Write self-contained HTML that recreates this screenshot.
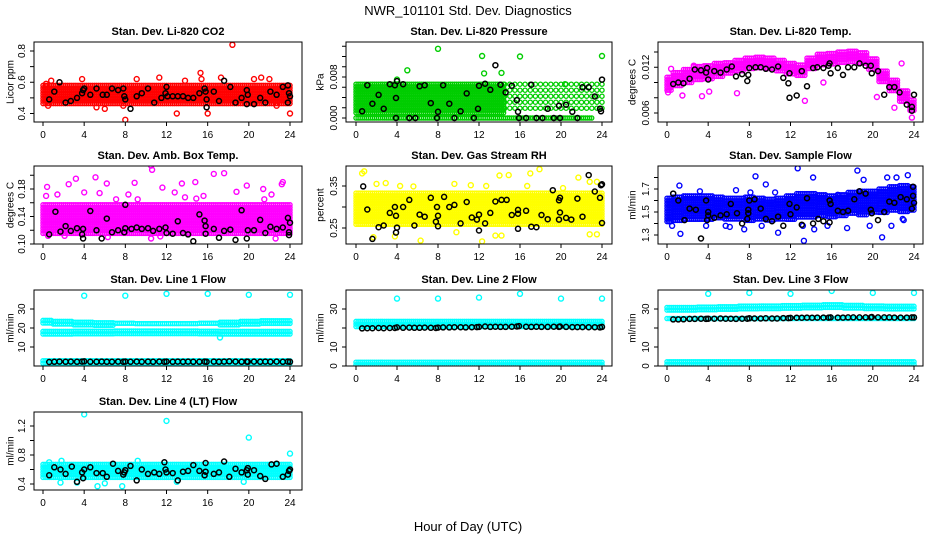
<!DOCTYPE html>
<html><head><meta charset="utf-8">
<style>
html,body{margin:0;padding:0;background:#fff;}
svg{display:block;font-family:"Liberation Sans",Helvetica,sans-serif;}
</style></head>
<body>
<svg id="chart" width="936" height="540" viewBox="0 0 936 540" xmlns="http://www.w3.org/2000/svg">
<text x="468" y="15" text-anchor="middle" font-size="13">NWR_101101  Std. Dev. Diagnostics</text>
<text x="468" y="531" text-anchor="middle" font-size="13">Hour of Day (UTC)</text>
<g id="panels"></g>
</svg>
<script>
// ---- shared data ----
const xTicks = [0,4,8,12,16,20,24];
const blackHours = [0.6,1.1,1.6,2.2,2.7,3.3,3.8,4.0,4.6,5.2,5.7,6.2,6.7,7.3,7.8,8.0,8.5,9.1,9.6,10.2,10.7,11.3,11.8,12.0,12.6,13.1,13.6,14.1,14.6,15.2,15.7,15.9,16.6,17.1,17.6,18.1,18.7,19.3,19.8,19.9,20.5,21.1,21.6,22.1,22.7,23.3,23.8,24.0];

// CO2
const co2Lo = [0.46,0.46];
const co2Hi = [0.58,0.58];
const co2Out = [[0.3,0.59],[0.5,0.45],[0.8,0.61],[3.8,0.62],[5.2,0.44],[6,0.43],[7.8,0.45],[8,0.36],[9.1,0.62],[11.3,0.63],[13,0.40],[13.8,0.61],[15.3,0.66],[15.4,0.62],[16,0.40],[17.3,0.63],[18.4,0.84],[20.5,0.62],[21.2,0.63],[22,0.62],[22.7,0.45],[24,0.40]];
const co2Black = [[0.6,0.49],[1.1,0.54],[1.6,0.60],[2.2,0.47],[2.7,0.48],[3.3,0.50],[3.8,0.53],[3.9,0.55],[4.0,0.56],[4.6,0.52],[5.2,0.56],[5.8,0.52],[6.2,0.52],[6.7,0.56],[7.3,0.55],[7.8,0.56],[7.9,0.51],[8.0,0.49],[8.5,0.43],[9.1,0.51],[9.6,0.53],[10.2,0.56],[10.8,0.47],[11.5,0.50],[11.9,0.53],[12,0.57],[12.1,0.51],[12.6,0.51],[13.1,0.51],[13.6,0.51],[14.1,0.50],[14.6,0.50],[15.2,0.53],[15.7,0.56],[15.8,0.54],[15.9,0.49],[15.9,0.44],[16.6,0.54],[17.1,0.48],[17.6,0.61],[18.2,0.57],[18.7,0.47],[19.3,0.50],[19.8,0.55],[19.9,0.52],[19.8,0.46],[20.5,0.46],[21.1,0.50],[21.6,0.47],[22.1,0.54],[22.7,0.52],[23.3,0.57],[23.8,0.58],[23.9,0.53],[24,0.51],[23.8,0.47]];

// Pressure
const presLo = [0.0008,0.0008];
const presHi = [0.0066,0.0066];
const presZeroLo = [0,0];
const presZeroHi = [0,0];
const presOut = [[8,0.0135],[12.3,0.0121],[16,0.012],[24,0.0121],[5,0.0093],[12.5,0.0087],[14.2,0.0088],[4,0.0075],[20.4,0.0066]];
const presBlack = [[0.6,0.0013],[1.1,0.0064],[1.6,0.0028],[2.2,0.0045],[2.7,0.0018],[3.3,0.0066],[3.8,0.0064],[3.9,0.0039],[3.9,0],[4,0.0072],[4.6,0.0066],[5.2,0],[5.8,0],[6.2,0.0062],[6.7,0.0064],[7.3,0.0029],[7.9,0],[8,0.0012],[8.5,0.0064],[9.1,0.0028],[9.6,0],[10.2,0.0013],[10.8,0.0048],[11.5,0],[11.9,0.0018],[12,0.0063],[12.6,0.0067],[13.1,0.0055],[13.6,0.0103],[14.1,0.0065],[14.6,0.0050],[15.2,0.0063],[15.7,0.0035],[15.8,0.0012],[15.9,0],[16.6,0],[17.1,0.0065],[17.6,0],[18.2,0],[18.7,0.0018],[19.3,0],[19.8,0.0024],[19.9,0],[20.5,0.0026],[21.1,0.0012],[21.6,0],[22.1,0.0060],[22.7,0.0060],[23.3,0.0042],[23.8,0.0018],[23.9,0.0013],[24,0.0075]];

// Li-820 Temp
const tempLo = [0.0089,0.0095,0.0099,0.0103,0.0104,0.0107,0.0110,0.0113,0.0116,0.0117,0.0116,0.0113,0.0109,0.0107,0.0116,0.0121,0.0124,0.0126,0.0127,0.0125,0.0117,0.0101,0.0089,0.0075,0.0063];
const tempHi = [0.0107,0.0113,0.0117,0.0121,0.0122,0.0125,0.0126,0.0129,0.0132,0.0133,0.0132,0.0129,0.0125,0.0123,0.0132,0.0137,0.0138,0.0140,0.0141,0.0139,0.0131,0.0115,0.0103,0.0089,0.0077];
const tempOut = [[0.1,0.0087],[0.4,0.0118],[1.5,0.0083],[2.6,0.0122],[3.4,0.0082],[4.1,0.0088],[6.8,0.0086],[13.4,0.0076],[15.2,0.0100],[20.4,0.0081],[22.1,0.0067],[22.8,0.0125],[23.8,0.0054]];
const tempBlack = [[0.6,0.0098],[1.1,0.0100],[1.6,0.0099],[2.2,0.0105],[2.7,0.0117],[3.3,0.0116],[3.8,0.0113],[3.9,0.0119],[4,0.0104],[4.6,0.0115],[5.2,0.0113],[5.8,0.0117],[6.3,0.0121],[6.7,0.0108],[7.3,0.0111],[7.8,0.0102],[7.9,0.0110],[8.0,0.0119],[8.6,0.0120],[9.1,0.0120],[9.6,0.0118],[10.2,0.0117],[10.8,0.0121],[11.3,0.0106],[11.8,0.0099],[11.9,0.0112],[11.9,0.0080],[12.6,0.0083],[13.1,0.0115],[13.6,0.0095],[14.2,0.0119],[14.6,0.0120],[15.2,0.0119],[15.7,0.0122],[15.8,0.0125],[15.9,0.0112],[16.6,0.0119],[17.1,0.0110],[17.6,0.0120],[18.2,0.0120],[18.7,0.0125],[19.3,0.0122],[19.8,0.0122],[19.9,0.0112],[20.5,0.0115],[21.1,0.0084],[21.6,0.0094],[22.1,0.0094],[22.6,0.0087],[23.3,0.0071],[23.8,0.0063],[23.8,0.0068],[24,0.0084]];

// Amb box temp
const ambLo = [0.115,0.115];
const ambHi = [0.157,0.157];
const ambOut = [[0.3,0.170],[0.4,0.183],[1.4,0.172],[2.5,0.187],[3.2,0.195],[4,0.175],[5.1,0.197],[5.5,0.174],[6.2,0.188],[7.1,0.165],[8.3,0.172],[8.9,0.189],[9.2,0.165],[10.5,0.214],[10.6,0.208],[10.5,0.108],[11.6,0.182],[11.4,0.111],[12.8,0.175],[13.5,0.188],[14.8,0.190],[16.6,0.202],[17.6,0.203],[18.8,0.176],[19.8,0.185],[21.4,0.180],[22.2,0.172],[23.2,0.187],[23.3,0.190],[0.5,0.112],[2.1,0.112],[6.3,0.110],[22.6,0.108],[14.9,0.166],[21.5,0.165],[13.8,0.168],[15.6,0.170]];
const ambBlack = [[0.6,0.114],[1.2,0.147],[1.7,0.118],[2.2,0.126],[2.7,0.119],[3.3,0.123],[3.8,0.114],[3.9,0.122],[3.9,0.108],[4.6,0.148],[5.2,0.120],[5.7,0.108],[6.2,0.137],[6.7,0.117],[7.3,0.120],[7.9,0.117],[8,0.123],[8,0.157],[8.6,0.122],[9.1,0.124],[9.6,0.122],[10.2,0.123],[10.7,0.119],[11.3,0.122],[11.9,0.124],[12,0.116],[12.6,0.115],[13.1,0.133],[13.6,0.116],[14.1,0.114],[14.6,0.104],[15.2,0.143],[15.7,0.134],[15.8,0.126],[15.8,0.115],[16.6,0.122],[17.1,0.109],[17.6,0.119],[18.2,0.121],[18.7,0.106],[19.3,0.149],[19.8,0.108],[19.9,0.120],[20.5,0.120],[21.1,0.135],[21.6,0.116],[22.1,0.125],[22.7,0.122],[23.3,0.124],[23.8,0.138],[23.9,0.117],[24,0.131],[23.9,0.113]];

// Gas stream RH
const rhLo = [0.258,0.258];
const rhHi = [0.333,0.333];
const rhOut = [[0.6,0.380],[0.8,0.385],[2,0.355],[2.9,0.357],[4.3,0.350],[5.6,0.349],[6.3,0.220],[9.6,0.355],[11.2,0.352],[12.3,0.218],[12.7,0.350],[14,0.375],[14.9,0.376],[17,0.380],[17.9,0.390],[16.7,0.350],[21.7,0.370],[22.8,0.360],[23.5,0.360],[22.8,0.235],[23.5,0.235],[13.6,0.232],[14.2,0.232],[3.8,0.230],[1.7,0.228],[9.8,0.240],[20.2,0.345]];
const rhBlack = [[0.7,0.349],[1.1,0.294],[1.6,0.224],[2.2,0.252],[2.7,0.256],[3.3,0.286],[3.8,0.300],[3.9,0.279],[3.9,0.239],[4.0,0.251],[4.6,0.300],[5.2,0.317],[5.7,0.256],[6.2,0.282],[6.7,0.277],[7.3,0.322],[7.8,0.265],[7.9,0.300],[8,0.279],[8,0.254],[8.6,0.324],[9.1,0.300],[9.6,0.305],[10.2,0.261],[10.8,0.312],[11.3,0.275],[11.8,0.270],[12,0.282],[12,0.244],[12.6,0.261],[13.1,0.286],[13.6,0.313],[14.2,0.317],[14.7,0.317],[15.2,0.281],[15.8,0.293],[15.8,0.284],[15.8,0.248],[16.6,0.291],[17.1,0.253],[17.6,0.252],[18.1,0.281],[18.7,0.271],[19.2,0.340],[19.8,0.316],[19.9,0.322],[19.8,0.270],[19.9,0.287],[20.5,0.274],[21,0.270],[21.6,0.320],[22.1,0.277],[22.7,0.376],[23.3,0.337],[23.8,0.322],[23.9,0.352],[24,0.262],[24,0.354]];

// Sample flow
const sfLo = [1.41,1.41,1.42,1.43,1.42,1.43,1.43,1.42,1.42,1.43,1.42,1.42,1.43,1.44,1.44,1.45,1.45,1.46,1.47,1.47,1.48,1.49,1.50,1.50,1.50];
const sfHi = [1.62,1.63,1.64,1.64,1.64,1.63,1.62,1.62,1.63,1.62,1.61,1.62,1.64,1.66,1.66,1.65,1.64,1.65,1.67,1.68,1.68,1.70,1.72,1.73,1.72];
const sfOut = [[0.2,1.42],[0.5,1.38],[1.2,1.73],[1.3,1.31],[3.2,1.68],[3.8,1.38],[5.7,1.38],[6.1,1.37],[6.7,1.69],[7.5,1.35],[8.1,1.67],[8.6,1.81],[9.2,1.38],[9.6,1.74],[10.5,1.67],[10.8,1.32],[12.7,1.88],[13.3,1.25],[13.2,1.38],[14.2,1.80],[14.3,1.35],[15.6,1.38],[16.6,1.65],[17.5,1.36],[18.5,1.86],[19.1,1.78],[19.7,1.38],[20.9,1.28],[21.8,1.38],[21.4,1.80],[22.3,1.80],[23.4,1.82],[22.9,1.44],[23,1.43]];
const sfBlack = [[0.6,1.66],[1.1,1.60],[1.7,1.43],[2.2,1.53],[2.8,1.52],[3.3,1.27],[3.8,1.60],[3.9,1.43],[4,1.50],[4,1.47],[4.6,1.45],[5.2,1.47],[5.8,1.48],[6.2,1.57],[6.8,1.49],[7.3,1.40],[7.8,1.44],[7.9,1.52],[7.9,1.49],[8,1.60],[8.5,1.61],[9.1,1.53],[9.6,1.44],[10.2,1.42],[10.8,1.46],[11.3,1.38],[11.9,1.57],[12,1.48],[12.6,1.54],[13.1,1.39],[13.6,1.62],[14.2,1.40],[14.7,1.44],[15.2,1.42],[15.8,1.41],[15.8,1.60],[15.9,1.57],[16.6,1.51],[17.1,1.50],[17.6,1.51],[18.2,1.61],[18.7,1.68],[19.3,1.66],[19.8,1.52],[19.9,1.49],[20.5,1.43],[21.1,1.50],[21.6,1.59],[22.1,1.58],[22.7,1.63],[23.3,1.61],[23.8,1.53],[23.9,1.64],[24,1.58],[23.9,1.72]];

// Line 1 flow
const l1UpLo = [21.5,21.5,21.3,21.2,21.2,21.2,21.2,21.2,21.2,21.3,21.5,21.5,21.5];
const l1UpHi = [24.0,23.5,23.0,22.8,22.5,22.3,22.3,22.3,22.5,23.0,23.5,23.8,23.8];
const l1MidLo = [16.0,16.5,16.5,16.8,17.0,17.0,17.0,17.0,16.8,16.5,16.5,16.5,16.5];
const l1MidHi = [18.2,18.2,18.3,18.3,18.4,18.4,18.4,18.4,18.3,18.2,18.2,18.2,18.2];
const l1BotLo = [1.3,1.3];
const l1BotHi = [2.8,2.8];
const l1Out = [[4,37],[8,37],[12,38],[16,38],[20,37.5],[24,37.5],[17.2,15]];
const l1BlackVals = [2.1,2.2,2.3,2.2,2.3,2.2,2.3,2.4,2.2,2.2,2.3,2.2,2.2,2.3,2.2,2.3,2.2,2.3,2.2,2.3,2.2,2.3,2.2,2.3,2.2,2.3,2.2,2.3,2.2,2.2,2.3,2.2,2.3,2.2,2.3,2.4,2.3,2.2,2.3,2.2,2.3,2.2,2.3,2.2,2.3,2.2,2.3,2.2];

// Line 2 flow
const l2UpLo = [20.0,20.0];
const l2UpHi = [23.5,23.5];
const l2BotLo = [0.4,0.4];
const l2BotHi = [2.0,2.0];
const l2Out = [[4,35.5],[8,35.5],[12,36],[16,38],[20,35.5],[24,35.5]];
const l2BlackVals = [19.8,19.9,19.9,20.0,19.9,20.0,20.0,20.3,20.1,20.2,20.1,20.1,20.2,20.1,20.0,20.2,20.3,20.3,20.4,20.4,20.3,20.4,20.5,20.6,20.8,20.6,20.7,20.6,20.6,20.7,20.8,21.0,20.7,20.6,20.7,20.6,20.6,20.7,20.6,20.8,20.6,20.5,20.5,20.5,20.4,20.4,20.3,20.6];

// Line 3 flow
const l3UpLo = [29.0,29.0,29.2,29.5,29.7,29.8,30.0,30.2,30.4,30.2,30.0,29.8,29.8];
const l3UpHi = [30.8,30.8,31.0,31.2,31.5,31.6,31.8,32.0,32.2,31.9,31.6,31.4,31.4];
const l3MidLo = [24.0,24.0];
const l3MidHi = [25.0,25.0];
const l3BotLo = [0.8,0.8];
const l3BotHi = [2.2,2.2];
const l3Out = [[4,38],[8,38.5],[12,38],[16,39.5],[20,38.5],[24,38.5]];
const l3BlackVals = [24.5,24.5,24.6,24.8,24.8,24.9,24.8,24.9,24.9,25.0,24.9,24.9,24.8,24.9,24.9,25.1,25.0,25.0,25.1,25.0,25.0,25.2,25.2,25.3,25.4,25.4,25.5,25.4,25.5,25.5,25.5,25.6,25.5,25.5,25.6,25.6,25.6,25.6,25.6,25.8,25.6,25.6,25.6,25.5,25.5,25.5,25.6,25.6];

// Line 4 flow
const l4Lo = [0.47,0.47];
const l4Hi = [0.67,0.67];
const l4Out = [[4,1.36],[12,1.27],[20,1.04],[24,0.82],[5.3,0.37],[7.7,0.37],[6,0.41],[1.8,0.72],[9.2,0.72],[3.3,0.42],[0.6,0.70],[1.7,0.42],[13,0.43],[19.5,0.43]];
const l4Black = [[0.6,0.52],[1.1,0.63],[1.7,0.60],[2.2,0.54],[2.8,0.64],[3.3,0.43],[3.8,0.56],[3.9,0.48],[4,0.60],[4.6,0.63],[5.2,0.55],[5.8,0.55],[6.2,0.50],[6.8,0.68],[7.3,0.58],[7.8,0.53],[7.9,0.56],[8,0.59],[8.5,0.65],[9.1,0.45],[9.6,0.60],[10.2,0.54],[10.8,0.56],[11.3,0.54],[11.8,0.70],[11.9,0.60],[12,0.56],[12.6,0.55],[13.1,0.45],[13.6,0.57],[14.1,0.58],[14.6,0.66],[15.2,0.58],[15.7,0.52],[15.8,0.69],[15.8,0.57],[16.6,0.54],[17.1,0.56],[17.6,0.71],[18.1,0.50],[18.7,0.61],[19.3,0.56],[19.8,0.59],[19.9,0.62],[19.9,0.53],[20.5,0.59],[21.1,0.51],[21.6,0.47],[22.2,0.67],[22.7,0.68],[23.3,0.50],[23.8,0.53],[23.9,0.58],[24,0.60]];

// tick arrays
const co2Ticks=[0.4,0.5,0.6,0.7,0.8], co2Labels=["0.4","","0.6","","0.8"];
const presTicks=[0,0.002,0.004,0.006,0.008,0.010,0.012,0.014], presLabels=["0.000","","","","0.008","","",""];
const tempTicks=[0.006,0.008,0.010,0.012,0.014], tempLabels=["0.006","","","0.012",""];
const ambTicks=[0.10,0.12,0.14,0.16,0.18,0.20], ambLabels=["0.10","","0.14","","0.18",""];
const rhTicks=[0.25,0.30,0.35], rhLabels=["0.25","","0.35"];
const sfTicks=[1.3,1.4,1.5,1.6,1.7,1.8], sfLabels=["1.3","","1.5","","1.7",""];
const l1Ticks=[10,20,30], l1Labels=["10","20","30"];
const l23Ticks=[0,10,20,30], l23Labels=["0","10","","30"];
const l4Ticks=[0.4,0.6,0.8,1.0,1.2], l4Labels=["0.4","","0.8","","1.2"];

// ---- layout (geometry, not data) ----
const cols=[{x0:43,x24:290,L:34,R:302,yl:10},{x0:356,x24:602,L:346,R:612,yl:320},{x0:667,x24:914,L:658,R:923,yl:632}];
const rows=[{T:42,B:122},{T:166,B:244},{T:290,B:366},{T:412,B:490}];

const pairs=(h,v)=>h.map((x,i)=>[x,v[i]]);
const panels=[
 {id:"co2",title:"Stan. Dev. Li-820 CO2",ylab:"Licor ppm",c:0,r:0,col:"#FF0000",ym:[0.4,113.5,0.8,51],ticks:co2Ticks,labels:co2Labels,bands:[[co2Lo,co2Hi,0,24]],out:co2Out,black:co2Black},
 {id:"pressure",title:"Stan. Dev. Li-820 Pressure",ylab:"kPa",c:1,r:0,col:"#00CD00",ym:[0,118,0.008,77],ticks:presTicks,labels:presLabels,bands:[[presLo,presHi,0,14.5],[presLo,presHi,14.5,24,"sparse"],[presZeroLo,presZeroHi,0,23]],out:presOut,black:presBlack},
 {id:"temp",title:"Stan. Dev. Li-820 Temp.",ylab:"degrees C",c:2,r:0,col:"#FF00FF",ym:[0.006,113,0.014,52],ticks:tempTicks,labels:tempLabels,bands:[[tempLo,tempHi,0,24]],out:tempOut,black:tempBlack},
 {id:"amb",title:"Stan. Dev. Amb. Box Temp.",ylab:"degrees C",c:0,r:1,col:"#FF00FF",ym:[0.10,244,0.18,189],ticks:ambTicks,labels:ambLabels,bands:[[ambLo,ambHi,0,24]],out:ambOut,black:ambBlack},
 {id:"rh",title:"Stan. Dev. Gas Stream RH",ylab:"percent",c:1,r:1,col:"#FFFF00",ym:[0.25,228,0.35,186],ticks:rhTicks,labels:rhLabels,bands:[[rhLo,rhHi,0,24]],out:rhOut,black:rhBlack},
 {id:"sampleflow",title:"Stan. Dev. Sample Flow",ylab:"ml/min",c:2,r:1,col:"#0000FF",ym:[1.3,235,1.7,189],ticks:sfTicks,labels:sfLabels,bands:[[sfLo,sfHi,0,24]],out:sfOut,black:sfBlack},
 {id:"line1",title:"Stan. Dev. Line 1 Flow",ylab:"ml/min",c:0,r:2,col:"#00FFFF",ym:[0,366,30,309],ticks:l1Ticks,labels:l1Labels,bands:[[l1UpLo,l1UpHi,0,24],[l1MidLo,l1MidHi,0,24],[l1BotLo,l1BotHi,0,24]],out:l1Out,black:pairs(blackHours,l1BlackVals)},
 {id:"line2",title:"Stan. Dev. Line 2 Flow",ylab:"ml/min",c:1,r:2,col:"#00FFFF",ym:[0,366,30,309],ticks:l23Ticks,labels:l23Labels,bands:[[l2UpLo,l2UpHi,0,24],[l2BotLo,l2BotHi,0,24]],out:l2Out,black:pairs(blackHours,l2BlackVals)},
 {id:"line3",title:"Stan. Dev. Line 3 Flow",ylab:"ml/min",c:2,r:2,col:"#00FFFF",ym:[0,366,30,309],ticks:l23Ticks,labels:l23Labels,bands:[[l3UpLo,l3UpHi,0,24],[l3MidLo,l3MidHi,0,24],[l3BotLo,l3BotHi,0,24]],out:l3Out,black:pairs(blackHours,l3BlackVals)},
 {id:"line4",title:"Stan. Dev. Line 4 (LT) Flow",ylab:"ml/min",c:0,r:3,col:"#00FFFF",ym:[0.4,484,0.8,455],ticks:l4Ticks,labels:l4Labels,bands:[[l4Lo,l4Hi,0,24]],out:l4Out,black:l4Black}
];

const NS="http://www.w3.org/2000/svg";
const root=document.getElementById("panels");
function mk(tag,attrs,parent){const e=document.createElementNS(NS,tag);for(const k in attrs)e.setAttribute(k,attrs[k]);parent.appendChild(e);return e;}

panels.forEach(p=>{
  const C=cols[p.c],Rw=rows[p.r];
  const xs=h=>C.x0+(C.x24-C.x0)*h/24;
  const ys=v=>p.ym[1]+(v-p.ym[0])*(p.ym[3]-p.ym[1])/(p.ym[2]-p.ym[0]);
  const g=mk("g",{},root);
  
  
  const t=mk("text",{x:(C.L+C.R)/2,y:Rw.T-7,"text-anchor":"middle","font-size":"11","font-weight":"bold"},g);
  t.textContent=p.title;
  
  
  const cy=(Rw.T+Rw.B)/2;
  const yl=mk("text",{x:C.yl,y:cy,"text-anchor":"middle","font-size":"10",transform:`rotate(-90 ${C.yl} ${cy})`,dy:"0.35em"},g);
  yl.textContent=p.ylab;
  
  
  const cid="clip-"+p.id;
  const cp=mk("clipPath",{id:cid},g);
  mk("rect",{x:C.L,y:Rw.T,width:C.R-C.L,height:Rw.B-Rw.T},cp);
  const pts=mk("g",{"clip-path":`url(#${cid})`,fill:"none"},g);
  
  
  p.bands.forEach(b=>{
    const [lo,hi,from,to,mode]=b; const n=lo.length;
    const step=mode==="sparse"?0.5:0.2;
    for(let h=from;h<=to+1e-9;h+=step){
      const idx=Math.round(h/24*(n-1));
      const yTop=ys(hi[idx]),yBot=ys(lo[idx]);
      const dy=mode==="sparse"?6:2.6;
      for(let y=yTop;y<=yBot+0.01;y+=dy){
        const c=mk("circle",{cx:xs(h).toFixed(1),cy:y.toFixed(1),r:2.1,stroke:p.col,"stroke-width":1.3},pts);
        
        
      }
    }
  });
  p.out.forEach(o=>{
    const c=mk("circle",{cx:xs(o[0]).toFixed(1),cy:ys(o[1]).toFixed(1),r:2.5,stroke:p.col,"stroke-width":1.4},pts);
    
    
  });
  p.black.forEach(o=>{
    const c=mk("circle",{cx:xs(o[0]).toFixed(1),cy:ys(o[1]).toFixed(1),r:2.5,stroke:"#000","stroke-width":1.5},pts);
    
    
  });
  const bx=mk("rect",{x:C.L,y:Rw.T,width:C.R-C.L,height:Rw.B-Rw.T,fill:"none",stroke:"#000","stroke-width":1},g);
  
  
  xTicks.forEach(v=>{
    const x=xs(v);
    mk("line",{x1:x,x2:x,y1:Rw.B,y2:Rw.B+4,stroke:"#000"},g);
    const tl=mk("text",{x:x,y:Rw.B+16,"text-anchor":"middle","font-size":"10"},g);
    tl.textContent=v;
    
    
  });
  p.ticks.forEach((v,i)=>{
    const y=ys(v);
    mk("line",{x1:C.L-4,x2:C.L,y1:y,y2:y,stroke:"#000"},g);
    if(p.labels[i]){
      const lx=C.L-9;
      const tl=mk("text",{x:lx,y:y,"text-anchor":"middle","font-size":"10",transform:`rotate(-90 ${lx} ${y})`},g);
      tl.textContent=p.labels[i];
      
      
    }
  });
});
</script>
</body></html>
